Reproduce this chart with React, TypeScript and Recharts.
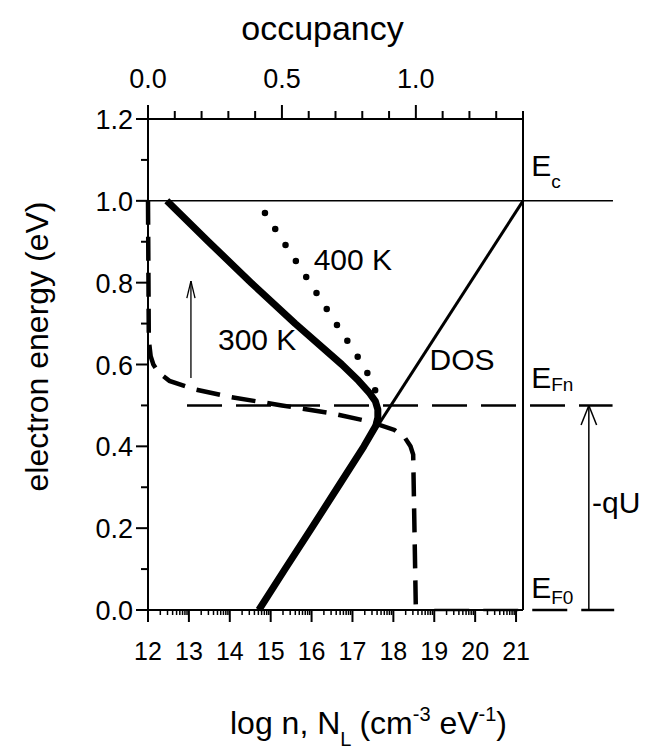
import React from 'react'
import { LineChart, Line, XAxis, YAxis, ReferenceLine, ReferenceDot } from 'recharts'

const FONT = '"Liberation Sans", Arial, Helvetica, sans-serif'

// density of states, log N vs electron energy (eV)
const dosEnergy = [0.0, 1.0]
const dosLogN = [14.71, 21.17]

// electron density at 300 K
const n300Energy = [1.0, 0.9, 0.8, 0.7, 0.6, 0.56, 0.53, 0.51, 0.49, 0.47, 0.45, 0.4, 0.3, 0.2, 0.1, 0.0]
const n300LogN = [12.46, 13.48, 14.52, 15.6, 16.74, 17.15, 17.42, 17.56, 17.62, 17.62, 17.57, 17.28, 16.64, 16.0, 15.35, 14.71]

// electron density at 400 K (dotted)
const n400Energy = [0.97, 0.9, 0.8, 0.7, 0.6, 0.55, 0.52]
const n400LogN = [14.86, 15.31, 15.96, 16.6, 17.25, 17.52, 17.6]

// occupancy (top axis)
const fermiEnergy = [1.0, 0.66, 0.62, 0.6, 0.58, 0.56, 0.54, 0.52, 0.5, 0.48, 0.46, 0.44, 0.42, 0.4, 0.38, 0.0]
const fermiOcc = [0.0, 0.003, 0.01, 0.02, 0.04, 0.08, 0.17, 0.31, 0.5, 0.69, 0.83, 0.92, 0.96, 0.98, 0.99, 1.0]

// axes
const energyTicks = [0, 0.1, 0.2, 0.3, 0.4, 0.5, 0.6, 0.7, 0.8, 0.9, 1.0, 1.1, 1.2]
const energyMajor = [0, 0.2, 0.4, 0.6, 0.8, 1.0, 1.2]
const occTicks = [0, 0.1, 0.2, 0.3, 0.4, 0.5, 0.6, 0.7, 0.8, 0.9, 1.0, 1.1, 1.2, 1.3, 1.4]
const occMajor = [0, 0.5, 1.0]
const decades = [12, 13, 14, 15, 16, 17, 18, 19, 20, 21]
const logMax = 21.17
const logTicks = decades
  .flatMap((d) => [1, 2, 3, 4, 5, 6, 7, 8, 9].map((k) => d + Math.log10(k)))
  .filter((v) => v <= logMax)

const toRows = (xs: number[], es: number[]) => xs.map((x, i) => ({ x, E: es[i] }))
const dosData = toRows(dosLogN, dosEnergy)
const n300Data = toRows(n300LogN, n300Energy)
const n400Data = toRows(n400LogN, n400Energy)
const fermiData = toRows(fermiOcc, fermiEnergy)

const isMajor = (v: number, list: number[]) => list.some((m) => Math.abs(m - v) < 1e-6)

const EnergyTick = (p: any) => {
  const { x, y, payload } = p
  const major = isMajor(payload.value, energyMajor)
  return (
    <g>
      <line x1={x - (major ? 12 : 7)} x2={x} y1={y} y2={y} stroke="#000" strokeWidth={2} />
      {major && (
        <text x={x - 15} y={y + 10} textAnchor="end" fontSize={27} fontFamily={FONT} fill="#000">
          {payload.value.toFixed(1)}
        </text>
      )}
    </g>
  )
}

const LogTick = (p: any) => {
  const { x, y, payload } = p
  const major = Math.abs(payload.value - Math.round(payload.value)) < 1e-6
  return (
    <g>
      <line x1={x} x2={x} y1={y} y2={y + (major ? 12 : 5)} stroke="#000" strokeWidth={major ? 2 : 1.5} />
      {major && (
        <text x={x} y={y + 50} textAnchor="middle" fontSize={25} fontFamily={FONT} fill="#000">
          {Math.round(payload.value)}
        </text>
      )}
    </g>
  )
}

const OccTick = (p: any) => {
  const { x, y, payload } = p
  const major = isMajor(payload.value, occMajor)
  return (
    <g>
      <line x1={x} x2={x} y1={y} y2={y - (major ? 14 : 8)} stroke="#000" strokeWidth={2} />
      {major && (
        <text x={x} y={y - 31} textAnchor="middle" fontSize={27} fontFamily={FONT} fill="#000">
          {payload.value.toFixed(1)}
        </text>
      )}
    </g>
  )
}

const YTitle = (p: any) => {
  const vb = p.viewBox
  const cx = vb.x + 37
  const cy = vb.y + vb.height / 2 - 18
  return (
    <text x={cx} y={cy} transform={`rotate(-90 ${cx} ${cy})`} textAnchor="middle" dominantBaseline="central" fontSize={32} fontFamily={FONT} fill="#000">
      electron energy (eV)
    </text>
  )
}

const OccTitle = (p: any) => {
  const vb = p.viewBox
  return (
    <text x={vb.x + vb.width / 2 - 13} y={vb.y + 40} textAnchor="middle" fontSize={34} fontFamily={FONT} fill="#000">
      occupancy
    </text>
  )
}

const LogTitle = (p: any) => {
  const vb = p.viewBox
  return (
    <text x={vb.x + vb.width / 2 + 33} y={vb.y + 124} textAnchor="middle" fontSize={32} fontFamily={FONT} fill="#000">
      log n, N
      <tspan fontSize={20} dy={12}>L</tspan>
      <tspan dy={-12} dx={8}>(cm</tspan>
      <tspan fontSize={20} dy={-13}>-3</tspan>
      <tspan dy={13}> eV</tspan>
      <tspan fontSize={20} dy={-13}>-1</tspan>
      <tspan dy={13}>)</tspan>
    </text>
  )
}

const note = (main: string, sub?: string, subDy = 8, anchor: 'start' | 'middle' = 'start') => (p: any) => (
  <text x={p.cx} y={p.cy} textAnchor={anchor} fontSize={30} fontFamily={FONT} fill="#000">
    {main}
    {sub && (
      <tspan fontSize={19} dy={subDy}>
        {sub}
      </tspan>
    )}
  </text>
)

const ax = { xAxisId: 'n', yAxisId: 'e' }

export default function App() {
  return (
    <div style={{ position: 'absolute', left: 0, top: 0, width: 650, height: 754, background: '#fff' }}>
      <LineChart width={650} height={754} margin={{ top: 0, right: 0, bottom: 0, left: 0 }}>
        <XAxis
          xAxisId="n"
          orientation="bottom"
          type="number"
          dataKey="x"
          domain={[12, logMax]}
          ticks={logTicks}
          interval={0}
          height={144}
          tickSize={0}
          tickMargin={0}
          tickLine={false}
          axisLine={{ stroke: '#000', strokeWidth: 2 }}
          tick={(p: any) => <LogTick {...p} />}
          label={<LogTitle />}
        />
        <XAxis
          xAxisId="o"
          orientation="top"
          type="number"
          dataKey="x"
          domain={[0, 1.4]}
          ticks={occTicks}
          interval={0}
          height={119}
          tickSize={0}
          tickMargin={0}
          tickLine={false}
          axisLine={{ stroke: '#000', strokeWidth: 2 }}
          tick={(p: any) => <OccTick {...p} />}
          label={<OccTitle />}
        />
        <YAxis
          yAxisId="e"
          orientation="left"
          type="number"
          domain={[0, 1.2]}
          ticks={energyTicks}
          interval={0}
          width={148}
          tickSize={0}
          tickMargin={0}
          tickLine={false}
          axisLine={{ stroke: '#000', strokeWidth: 2 }}
          tick={(p: any) => <EnergyTick {...p} />}
          label={<YTitle />}
        />
        <YAxis
          yAxisId="r"
          orientation="right"
          type="number"
          domain={[0, 1.2]}
          width={127}
          tick={false}
          tickLine={false}
          axisLine={{ stroke: '#000', strokeWidth: 2 }}
        />

        {/* levels */}
        <ReferenceLine {...ax} segment={[{ x: 12, y: 1.0 }, { x: 23.37, y: 1.0 }]} stroke="#000" strokeWidth={1.5} ifOverflow="visible" />
        <ReferenceLine {...ax} segment={[{ x: 12.954, y: 0.5 }, { x: 23.36, y: 0.5 }]} stroke="#000" strokeWidth={2.5} strokeDasharray="35 14" ifOverflow="visible" />
        <ReferenceLine {...ax} segment={[{ x: 19.0, y: 0 }, { x: 23.4, y: 0 }]} stroke="#000" strokeWidth={2.5} strokeDasharray="35 14" ifOverflow="visible" />

        {/* arrows */}
        <ReferenceLine {...ax} segment={[{ x: 13.05, y: 0.567 }, { x: 13.05, y: 0.804 }]} stroke="#000" strokeWidth={1.3} />
        <ReferenceLine {...ax} segment={[{ x: 12.95, y: 0.762 }, { x: 13.05, y: 0.804 }]} stroke="#000" strokeWidth={1.3} />
        <ReferenceLine {...ax} segment={[{ x: 13.15, y: 0.762 }, { x: 13.05, y: 0.804 }]} stroke="#000" strokeWidth={1.3} />
        <ReferenceLine {...ax} segment={[{ x: 22.78, y: 0 }, { x: 22.78, y: 0.5 }]} stroke="#000" strokeWidth={1.5} ifOverflow="visible" />
        <ReferenceLine {...ax} segment={[{ x: 22.59, y: 0.452 }, { x: 22.78, y: 0.5 }]} stroke="#000" strokeWidth={1.5} ifOverflow="visible" />
        <ReferenceLine {...ax} segment={[{ x: 22.97, y: 0.452 }, { x: 22.78, y: 0.5 }]} stroke="#000" strokeWidth={1.5} ifOverflow="visible" />

        <Line {...ax} data={dosData} dataKey="E" type="linear" stroke="#000" strokeWidth={3} dot={false} activeDot={false} isAnimationActive={false} />
        <Line xAxisId="o" yAxisId="e" data={fermiData} dataKey="E" type="linear" stroke="#000" strokeWidth={4.5} strokeDasharray="24 12" dot={false} activeDot={false} isAnimationActive={false} />
        <Line {...ax} data={n400Data} dataKey="E" type="linear" stroke="#000" strokeWidth={6.5} strokeLinecap="round" strokeDasharray="0 19" dot={false} activeDot={false} isAnimationActive={false} />
        <Line {...ax} data={n300Data} dataKey="E" type="linear" stroke="#000" strokeWidth={7} strokeLinejoin="round" dot={false} activeDot={false} isAnimationActive={false} />

        {/* annotations */}
        <ReferenceDot {...ax} x={17.01} y={0.831} r={0} ifOverflow="visible" shape={note('400 K', undefined, 0, 'middle')} />
        <ReferenceDot {...ax} x={14.67} y={0.635} r={0} ifOverflow="visible" shape={note('300 K', undefined, 0, 'middle')} />
        <ReferenceDot {...ax} x={19.68} y={0.587} r={0} ifOverflow="visible" shape={note('DOS', undefined, 0, 'middle')} />
        <ReferenceDot {...ax} x={21.37} y={1.061} r={0} ifOverflow="visible" shape={note('E', 'c', 12)} />
        <ReferenceDot {...ax} x={21.37} y={0.5425} r={0} ifOverflow="visible" shape={note('E', 'Fn', 3)} />
        <ReferenceDot {...ax} x={21.37} y={0.029} r={0} ifOverflow="visible" shape={note('E', 'F0', 6)} />
        <ReferenceDot {...ax} x={22.86} y={0.237} r={0} ifOverflow="visible" shape={note('-qU')} />
      </LineChart>
    </div>
  )
}
